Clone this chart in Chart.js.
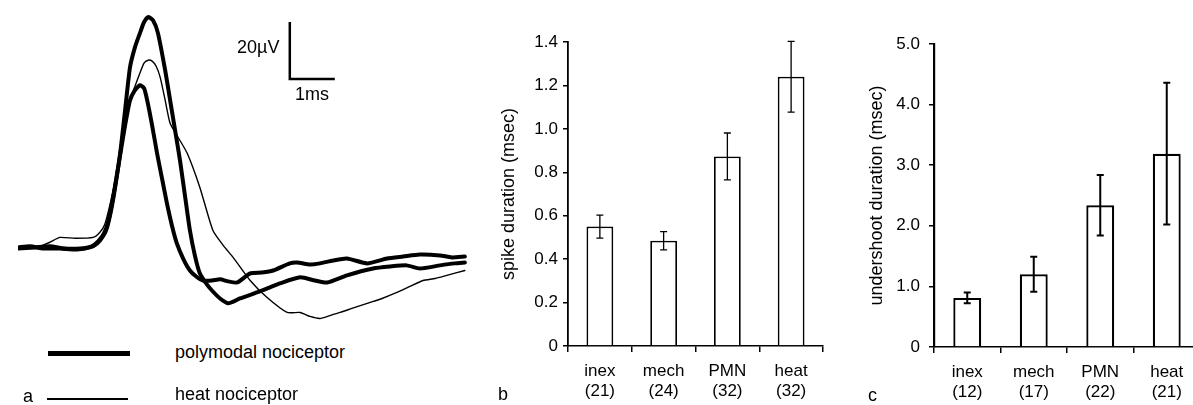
<!DOCTYPE html>
<html>
<head>
<meta charset="utf-8">
<script src="https://cdn.jsdelivr.net/npm/chart.js@4.4.1/dist/chart.umd.min.js"></script>
<style>
  html, body { margin: 0; padding: 0; background: #fff; overflow: hidden; }
  body { width: 1193px; height: 405px; position: relative; font-family: "Liberation Sans", Arial, sans-serif; color: #000; }
  canvas { position: absolute; top: 0; }
  #traces { left: 0; }
  #spike { left: 480px; }
  #undershoot { left: 830px; }
  .txt { position: absolute; font-size: 18px; line-height: 1; white-space: nowrap; }
  .key { position: absolute; background: #000; }
</style>
</head>
<body>
<canvas id="traces" width="480" height="333"></canvas>
<canvas id="spike" width="350" height="405"></canvas>
<canvas id="undershoot" width="380" height="405"></canvas>

<div class="txt" style="left:237px; top:38px;">20µV</div>
<div class="txt" style="left:295px; top:85px;">1ms</div>
<div class="key" style="left:48px; top:351px; width:82px; height:5px;"></div>
<div class="txt" style="left:175px; top:343px;">polymodal nociceptor</div>
<div class="key" style="left:47px; top:398px; width:81px; height:2px;"></div>
<div class="txt" style="left:175px; top:385px;">heat nociceptor</div>
<div class="txt" style="left:23px; top:387px;">a</div>
<div class="txt" style="left:498px; top:385px;">b</div>
<div class="txt" style="left:868px; top:386px;">c</div>

<script>
// panel a: averaged spike shapes, [time ms, voltage µV]
const polymodalTallTrace = [
  [0.00, 0.0], [0.27, 0.4], [0.56, -0.4], [0.93, -0.4], [1.31, -0.7], [1.60, 0.0],
  [1.76, 1.4], [1.89, 3.9], [1.98, 7.0], [2.11, 16.5], [2.27, 33.0], [2.38, 48.1],
  [2.49, 63.2], [2.60, 70.2], [2.71, 75.1], [2.80, 78.9], [2.89, 80.7], [3.00, 79.6],
  [3.11, 75.1], [3.27, 62.1], [3.38, 51.6], [3.49, 41.1], [3.60, 30.5], [3.71, 18.2],
  [3.82, 6.0], [3.93, -2.8], [4.04, -9.1], [4.18, -12.6], [4.31, -15.1], [4.49, -17.9],
  [4.67, -19.6], [4.80, -18.9], [4.93, -17.9], [5.31, -15.8], [5.60, -14.0], [5.82, -12.6],
  [6.27, -10.5], [6.60, -11.6], [6.87, -12.3], [7.31, -9.8], [7.89, -7.4], [8.27, -6.7],
  [8.64, -6.3], [8.93, -7.4], [9.38, -6.3], [9.71, -5.6], [9.93, -5.3],
];

const polymodalSmallTrace = [
  [0.00, -0.4], [0.38, 0.0], [0.71, 0.4], [1.04, -0.4], [1.38, -0.4], [1.64, 0.4],
  [1.78, 2.1], [1.91, 4.9], [2.00, 8.8], [2.11, 17.2], [2.27, 32.3], [2.38, 42.8],
  [2.49, 51.6], [2.60, 55.1], [2.71, 56.8], [2.80, 55.8], [2.87, 51.6], [2.98, 42.8],
  [3.09, 33.0], [3.20, 24.2], [3.31, 15.4], [3.42, 7.7], [3.53, 1.4], [3.67, -3.9],
  [3.82, -8.1], [3.96, -10.2], [4.11, -11.6], [4.31, -11.6], [4.49, -11.2], [4.67, -11.9],
  [4.87, -12.3], [5.16, -9.1], [5.42, -8.8], [5.67, -8.1], [6.04, -5.6], [6.20, -5.3],
  [6.49, -6.0], [6.71, -5.6], [7.00, -4.6], [7.31, -3.9], [7.76, -5.6], [8.20, -3.9],
  [8.56, -3.2], [8.93, -2.5], [9.38, -2.8], [9.64, -3.5], [9.93, -3.2],
];

const heatTrace = [
  [0.00, 0.0], [0.27, 0.0], [0.49, 0.4], [0.71, 1.8], [0.93, 3.5], [1.27, 3.2],
  [1.67, 3.5], [1.82, 5.3], [1.93, 8.1], [2.04, 14.7], [2.16, 23.5], [2.27, 33.0],
  [2.38, 43.5], [2.49, 51.6], [2.60, 56.5], [2.71, 61.1], [2.80, 64.6], [2.89, 65.6],
  [2.98, 65.3], [3.07, 63.5], [3.16, 59.6], [3.27, 51.6], [3.38, 43.5], [3.53, 39.3],
  [3.76, 33.0], [4.04, 21.1], [4.33, 6.0], [4.56, 0.7], [4.78, -3.5], [5.16, -11.6],
  [5.53, -17.5], [5.98, -22.8], [6.27, -22.8], [6.49, -24.2], [6.71, -24.9], [6.93, -23.9],
  [7.16, -22.8], [7.42, -21.4], [7.76, -19.6], [8.09, -17.9], [8.42, -15.8], [8.71, -13.7],
  [9.00, -11.6], [9.27, -10.9], [9.53, -9.8], [9.93, -8.1],
];

// 20 µV / 1 ms scale bar
const scaleBar = [[6.04, 79], [6.04, 59], [7.04, 59]];

// panels b and c
const fibreTypes = ["inex", "mech", "PMN", "heat"];
const spikeCounts = ["(21)", "(24)", "(32)", "(32)"];
const spikeMeans = [0.55, 0.485, 0.873, 1.24];
const spikeErrors = [0.053, 0.042, 0.108, 0.163];
const undershootCounts = ["(12)", "(17)", "(22)", "(21)"];
const undershootMeans = [0.81, 1.2, 2.34, 3.19];
const undershootErrors = [0.09, 0.29, 0.5, 1.17];

Chart.defaults.font.family = "'Liberation Sans', Arial, sans-serif";
Chart.defaults.color = "#000";

const toPoints = (pairs) => pairs.map(([x, y]) => ({ x, y }));

const trace = (pairs, width) => ({
  data: toPoints(pairs),
  borderColor: "#000",
  borderWidth: width,
  pointRadius: 0,
  tension: 0.2,
  borderJoinStyle: "round",
  borderCapStyle: "round",
  fill: false,
});

new Chart(document.getElementById("traces").getContext("2d"), {
  type: "line",
  data: {
    datasets: [
      trace(heatTrace, 1.4),
      trace(polymodalTallTrace, 4),
      trace(polymodalSmallTrace, 4),
      { ...trace(scaleBar, 2.5), tension: 0, borderJoinStyle: "miter", borderCapStyle: "butt" },
    ],
  },
  options: {
    responsive: false,
    animation: false,
    layout: { padding: { left: 18, right: 12, top: 2, bottom: 0 } },
    scales: {
      x: { type: "linear", min: 0, max: 10, display: false },
      y: { min: -30, max: 86, display: false },
    },
    plugins: { legend: { display: false }, tooltip: { enabled: false } },
  },
});

const errorBars = {
  id: "errorBars",
  afterDatasetsDraw(chart, args, opts) {
    const { ctx } = chart;
    const yScale = chart.scales.y;
    const meta = chart.getDatasetMeta(0);
    const values = chart.data.datasets[0].data;
    ctx.save();
    ctx.strokeStyle = "#000";
    ctx.lineWidth = opts.width;
    meta.data.forEach((bar, i) => {
      const top = yScale.getPixelForValue(values[i] + opts.errors[i]);
      const bottom = yScale.getPixelForValue(values[i] - opts.errors[i]);
      ctx.beginPath();
      ctx.moveTo(bar.x, top);
      ctx.lineTo(bar.x, bottom);
      ctx.moveTo(bar.x - 3.5, top);
      ctx.lineTo(bar.x + 3.5, top);
      ctx.moveTo(bar.x - 3.5, bottom);
      ctx.lineTo(bar.x + 3.5, bottom);
      ctx.stroke();
    });
    ctx.restore();
  },
};

function barChart(id, cfg) {
  return new Chart(document.getElementById(id).getContext("2d"), {
    type: "bar",
    data: {
      labels: fibreTypes.map((name, i) => [name, cfg.counts[i]]),
      datasets: [
        {
          data: cfg.means,
          backgroundColor: "#fff",
          borderColor: "#000",
          borderWidth: cfg.lineWidth,
          barPercentage: 1,
          categoryPercentage: 0.42,
        },
      ],
    },
    options: {
      responsive: false,
      animation: false,
      layout: { padding: { top: cfg.top, right: cfg.right, left: 0, bottom: 0 } },
      scales: {
        x: {
          afterFit: (scale) => { scale.height = cfg.xHeight; },
          grid: { drawOnChartArea: false, offset: true, color: "#000", lineWidth: 1.5, tickLength: 6 },
          border: { color: "#000", width: 1.5 },
          ticks: { font: { size: 17 }, padding: 9, maxRotation: 0 },
        },
        y: {
          min: 0,
          max: cfg.max,
          afterFit: (scale) => { scale.width = cfg.yWidth; },
          grid: { drawOnChartArea: false, color: "#000", lineWidth: 1.5, tickLength: 5 },
          border: { color: "#000", width: cfg.lineWidth },
          ticks: {
            stepSize: cfg.step,
            font: { size: 17 },
            padding: cfg.tickPad,
            callback: (v) => (v === 0 ? "0" : v.toFixed(1)),
          },
          title: {
            display: true,
            text: cfg.title,
            font: { size: 18 },
            padding: { top: cfg.titlePad, bottom: 0 },
          },
        },
      },
      plugins: {
        legend: { display: false },
        tooltip: { enabled: false },
        errorBars: { errors: cfg.errors, width: cfg.errWidth },
      },
    },
    plugins: [errorBars],
  });
}

barChart("spike", {
  counts: spikeCounts,
  means: spikeMeans,
  errors: spikeErrors,
  max: 1.4,
  step: 0.2,
  title: "spike duration (msec)",
  top: 42,
  right: 7,
  xHeight: 59,
  yWidth: 88,
  tickPad: 5,
  titlePad: 18,
  lineWidth: 1.8,
  errWidth: 1.3,
});

barChart("undershoot", {
  counts: undershootCounts,
  means: undershootMeans,
  errors: undershootErrors,
  max: 5,
  step: 1,
  title: "undershoot duration (msec)",
  top: 44,
  right: 10,
  xHeight: 58,
  yWidth: 104,
  tickPad: 9,
  titlePad: 36,
  lineWidth: 2.2,
  errWidth: 2,
});
</script>
</body>
</html>
